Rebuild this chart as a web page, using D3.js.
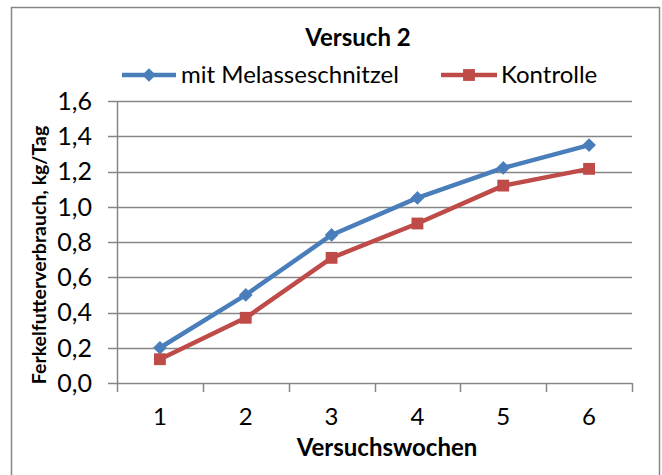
<!DOCTYPE html>
<html>
<head>
<meta charset="utf-8">
<script src="https://cdn.jsdelivr.net/npm/d3@7"></script>
<style>
	body { margin: 0; background: #fff; }
	svg text { font-family: Lato, "Open Sans", sans-serif; fill: #000; }
</style>
</head>
<body>
<div id="chart"></div>
<script>
// data
var weeks = [1, 2, 3, 4, 5, 6];
var melasse = [0.20, 0.50, 0.84, 1.05, 1.22, 1.35];
var kontrolle = [0.135, 0.37, 0.71, 0.905, 1.12, 1.215];
var yTicks = [0, 0.2, 0.4, 0.6, 0.8, 1.0, 1.2, 1.4, 1.6];
var seriesNames = ["mit Melasseschnitzel", "Kontrolle"];
var seriesColors = ["#4a7ebb", "#be4b48"];

var W = 662, H = 475;
var margin = {top: 101, right: 30, bottom: 92, left: 117};
var width = W - margin.left - margin.right;
var height = H - margin.top - margin.bottom;
var grey = "#868686";

var svg = d3.select("#chart").append("svg")
	.attr("width", W)
	.attr("height", H);

// outer chart frame (bottom edge runs past the picture)
svg.append("rect")
	.attr("x", 11.5).attr("y", 7.5)
	.attr("width", 648).attr("height", 480)
	.attr("fill", "none")
	.attr("stroke", grey)
	.attr("stroke-width", 1.5);

var g = svg.append("g")
	.attr("transform", "translate(" + margin.left + "," + margin.top + ")");

var x = d3.scaleBand().domain(weeks).range([0, width]);
var y = d3.scaleLinear().domain([0, 1.6]).range([height, 0]);
var fmt = function(d) { return d3.format(".1f")(d).replace(".", ","); };

// horizontal grid
g.append("g").selectAll("line")
	.data(yTicks)
	.enter().append("line")
		.attr("x1", -9).attr("x2", width)
		.attr("y1", function(d) { return Math.round(y(d)) + 0.5; })
		.attr("y2", function(d) { return Math.round(y(d)) + 0.5; })
		.attr("stroke", grey)
		.attr("stroke-width", 1.5);

// y axis line + labels
g.append("line")
	.attr("x1", 0.5).attr("x2", 0.5)
	.attr("y1", 0).attr("y2", height)
	.attr("stroke", grey).attr("stroke-width", 1.5);

g.append("g").selectAll("text")
	.data(yTicks)
	.enter().append("text")
		.attr("x", -25)
		.attr("y", function(d) { return y(d); })
		.attr("dy", "0.35em")
		.attr("text-anchor", "end")
		.style("font-size", "25px")
		.text(fmt);

// x axis ticks (category boundaries) + labels
var bounds = weeks.map(function(d) { return x(d); }).concat([width]);
g.append("g").selectAll("line")
	.data(bounds)
	.enter().append("line")
		.attr("x1", function(d) { return Math.round(d) + 0.5; })
		.attr("x2", function(d) { return Math.round(d) + 0.5; })
		.attr("y1", height).attr("y2", height + 9)
		.attr("stroke", grey).attr("stroke-width", 1.5);

g.append("g").selectAll("text")
	.data(weeks)
	.enter().append("text")
		.attr("x", function(d) { return x(d) + x.bandwidth() / 2; })
		.attr("y", height + 42)
		.attr("text-anchor", "middle")
		.style("font-size", "24px")
		.text(function(d) { return d; });

// axis titles
svg.append("text")
	.attr("x", 387).attr("y", 456)
	.attr("text-anchor", "middle")
	.style("font-size", "24px").style("font-weight", "bold")
	.text("Versuchswochen");

svg.append("text")
	.attr("transform", "translate(46,255) rotate(-90)")
	.attr("text-anchor", "middle")
	.style("font-size", "19.5px").style("font-weight", "bold")
	.text("Ferkelfutterverbrauch, kg/Tag");

// title
svg.append("text")
	.attr("x", 358).attr("y", 46)
	.attr("text-anchor", "middle")
	.style("font-size", "24px").style("font-weight", "bold")
	.text("Versuch 2");

// series
var line = d3.line()
	.x(function(d, i) { return x(weeks[i]) + x.bandwidth() / 2; })
	.y(function(d) { return y(d); });

var symbolFor = function(s) {
	return s === 0 ? d3.symbol().type(d3.symbolDiamond2).size(120) : d3.symbol().type(d3.symbolSquare).size(140);
};

var data = [melasse, kontrolle];
data.forEach(function(vals, s) {
	g.append("path")
		.datum(vals)
		.attr("d", line)
		.attr("fill", "none")
		.attr("stroke", seriesColors[s])
		.attr("stroke-width", 4.5)
		.attr("stroke-linejoin", "round");

	g.append("g").selectAll("path")
		.data(vals)
		.enter().append("path")
			.attr("transform", function(d, i) {
				return "translate(" + (x(weeks[i]) + x.bandwidth() / 2) + "," + y(d) + ")";
			})
			.attr("d", symbolFor(s))
			.attr("fill", seriesColors[s]);
});

// legend
var legendItems = [
	{x0: 122, x1: 176, tx: 181},
	{x0: 441, x1: 497, tx: 501}
];
var leg = svg.append("g");
legendItems.forEach(function(it, s) {
	var cy = 75;
	leg.append("line")
		.attr("x1", it.x0).attr("x2", it.x1)
		.attr("y1", cy).attr("y2", cy)
		.attr("stroke", seriesColors[s])
		.attr("stroke-width", 4.5);
	leg.append("path")
		.attr("transform", "translate(" + ((it.x0 + it.x1) / 2) + "," + cy + ")")
		.attr("d", symbolFor(s))
		.attr("fill", seriesColors[s]);
	leg.append("text")
		.attr("x", it.tx).attr("y", cy)
		.attr("dy", "0.35em")
		.style("font-size", "24px")
		.text(seriesNames[s]);
});
</script>
</body>
</html>
